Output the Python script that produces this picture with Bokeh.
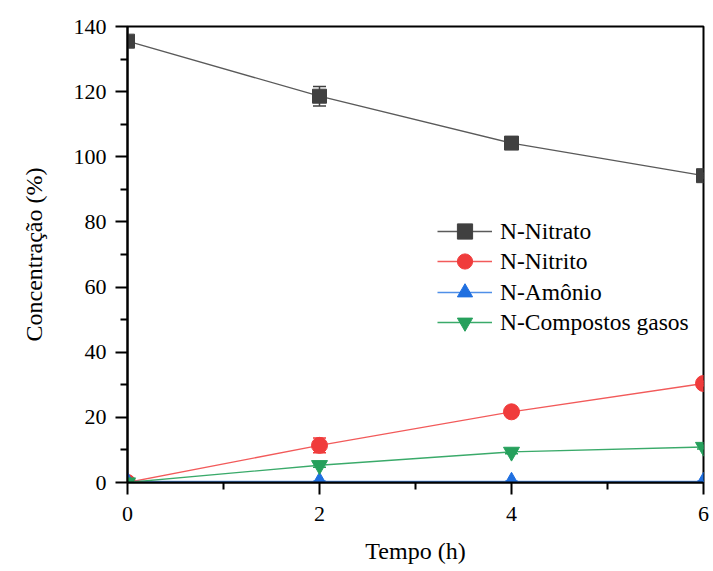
from bokeh.plotting import figure
from bokeh.models import (Range1d, FixedTicker, Legend, LegendItem, Whisker,
                          ColumnDataSource)
from bokeh.embed import file_html
from bokeh.resources import INLINE

tempo = [0, 2, 4, 6]
nitrato = [135.5, 118.6, 104.2, 94.2]
nitrato_err = [1.0, 3.0, 0.8, 0.8]
nitrito = [0.0, 11.4, 21.7, 30.4]
nitrito_err = [0.3, 2.3, 0.8, 0.8]
amonio = [0.3, 0.3, 0.3, 0.3]
amonio_err = [0.1, 0.1, 0.1, 0.1]
gasos = [0.0, 5.3, 9.4, 10.9]
gasos_err = [0.2, 0.6, 0.6, 0.6]

x_ticks = [0, 2, 4, 6]
x_minor = [1, 3, 5]
y_ticks = [0, 20, 40, 60, 80, 100, 120, 140]
y_minor = [10, 30, 50, 70, 90, 110, 130]

FONT = "Liberation Serif"

p = figure(width=710, height=568, output_backend="svg", toolbar_location=None,
           x_range=Range1d(0, 6), y_range=Range1d(0, 140),
           min_border_left=127, min_border_right=7, min_border_top=26,
           min_border_bottom=86)
p.grid.visible = False
p.outline_line_color = "black"
p.outline_line_width = 2
p.background_fill_color = "white"
p.border_fill_color = "white"

for ax in (p.xaxis[0], p.yaxis[0]):
    ax.axis_line_width = 2
    ax.major_tick_line_width = 2
    ax.minor_tick_line_width = 2
    ax.major_tick_in = 0
    ax.major_tick_out = 12
    ax.minor_tick_in = 0
    ax.minor_tick_out = 7
    ax.major_label_text_font = FONT
    ax.major_label_text_font_size = "22px"
    ax.major_label_text_color = "black"
    ax.axis_label_text_font = FONT
    ax.axis_label_text_font_size = "24px"
    ax.axis_label_text_font_style = "normal"
    ax.axis_label_text_color = "black"

p.xaxis.ticker = FixedTicker(ticks=x_ticks, minor_ticks=x_minor)
p.yaxis.ticker = FixedTicker(ticks=y_ticks, minor_ticks=y_minor)
p.xaxis.axis_label = "Tempo (h)"
p.yaxis.axis_label = "Concentração (%)"
p.xaxis.major_label_standoff = 12
p.xaxis.axis_label_standoff = 14
p.yaxis.major_label_standoff = 9
p.yaxis.axis_label_standoff = 24

series = [
    ("N-Nitrato", nitrato, nitrato_err, "#5a5a5a", "#404040", "square", 14),
    ("N-Nitrito", nitrito, nitrito_err, "#f25a5a", "#f03c3c", "circle", 16),
    ("N-Amônio", amonio, amonio_err, "#4f8fe8", "#1f6fe0", "triangle", 16),
    ("N-Compostos gasos", gasos, gasos_err, "#3aaa6a", "#26a05c", "inverted_triangle", 16),
]

legend_y = [232, 202, 171, 141]

for (name, ys, errs, lcol, mcol, marker, size), ly in zip(series, legend_y):
    src = ColumnDataSource(dict(x=tempo, y=ys,
                                lo=[a - b for a, b in zip(ys, errs)],
                                hi=[a + b for a, b in zip(ys, errs)]))
    w = Whisker(source=src, base="x", lower="lo", upper="hi",
                line_color=mcol, line_width=1.5)
    w.upper_head.line_color = mcol
    w.lower_head.line_color = mcol
    w.upper_head.line_width = 1.5
    w.lower_head.line_width = 1.5
    w.upper_head.size = 13
    w.lower_head.size = 13
    p.add_layout(w)
    l = p.line("x", "y", source=src, line_color=lcol, line_width=1.3)
    s = p.scatter("x", "y", source=src, marker=marker, size=size,
                  fill_color=mcol, line_color=mcol)
    leg = Legend(items=[LegendItem(label=name, renderers=[l, s])],
                 location=(310, ly))
    leg.border_line_color = None
    leg.background_fill_alpha = 0
    leg.padding = 0
    leg.margin = 0
    leg.glyph_width = 55
    leg.glyph_height = 38
    leg.label_height = 38
    leg.label_standoff = 8
    leg.label_text_font = FONT
    leg.label_text_font_size = "23.5px"
    leg.label_text_color = "black"
    p.add_layout(leg, "center")

open("out.html", "w").write(file_html(p, INLINE))
